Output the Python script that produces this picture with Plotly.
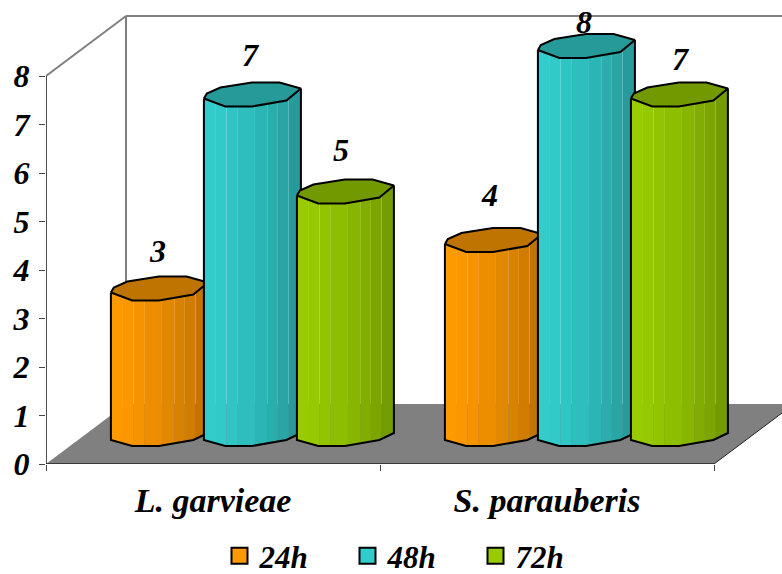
import numpy as np
import plotly.graph_objects as go

# Chart values
categories = ["L. garvieae", "S. parauberis"]
series_names = ["24h", "48h", "72h"]
values_24h = [3, 4]
values_48h = [7, 8]
values_72h = [5, 7]
series_values = [values_24h, values_48h, values_72h]
y_ticks = [0, 1, 2, 3, 4, 5, 6, 7, 8]

# Series colours
face_colors = [(255, 153, 0), (51, 204, 204), (153, 204, 0)]

# Plot scale in pixels per axis unit
PX_PER_X = 334.0
PX_PER_Y = 48.5
WIDTH, HEIGHT = 782, 574
LEFT, BOTTOM = 46, 464

# Depth of the box and placement of the cylinders inside it
BOX_DX = 80 / PX_PER_X
BOX_DY = 60 / PX_PER_Y
CYL_SHIFT_X = 0.118
CYL_SHIFT_Y = 30 / PX_PER_Y
CYL_PITCH = 93 / PX_PER_X
CYL_WIDTH = 97 / PX_PER_X

# Outline of the faceted cylinder: position across the width, vertical offset in axis units
knots = np.array([0.0, 0.22, 0.495, 0.85, 1.0])
top_front = np.array([4, 12, 12, 6, -6]) / PX_PER_Y
base_front = np.array([6, 12, 12, 6, -1]) / PX_PER_Y
back_f = np.array([0.0, 0.03, 0.17, 0.495, 0.78, 1.0])
back_dy = np.array([4, -1, -7, -12, -12, -6]) / PX_PER_Y

# Vertical facets and the shading of each
strip_edges = np.array([0, 0.124, 0.234, 0.343, 0.526, 0.653, 0.762, 0.872, 1.0])
strip_shades = [1.0, 0.985, 0.96, 0.93, 0.885, 0.85, 0.81, 0.76]
TOP_SHADE = 0.75

# Label placement above each column, in pixels
label_lift = [[38, 45], [40, 24], [42, 36]]
label_nudge = [[-2, -4], [-1, -2], [-4, 2]]

TEXT_FONT = dict(family="Liberation Serif", color="black", weight="bold", style="italic")


def rgb(color, shade=1.0):
    r, g, b = (int(round(c * shade)) for c in color)
    return f"rgb({r},{g},{b})"


def front_points(f0, f1):
    inner = knots[(knots > f0) & (knots < f1)]
    return np.concatenate(([f0], inner, [f1]))


def strip_polygon(left, base, top, f0, f1):
    f = front_points(f0, f1)
    xs = left + f * CYL_WIDTH
    upper = top - np.interp(f, knots, top_front)
    lower = base - np.interp(f, knots, base_front)
    return list(xs) + list(xs[::-1]) + [xs[0], None], list(upper) + list(lower[::-1]) + [upper[0], None]


fig = go.Figure()

for s, (name, vals, color) in enumerate(zip(series_names, series_values, face_colors)):
    lefts = [c + 0.5 + CYL_SHIFT_X + (s - 1) * CYL_PITCH - CYL_WIDTH / 2 for c in range(len(vals))]

    # Body facets
    for k, shade in enumerate(strip_shades):
        xs, ys = [], []
        for left, v in zip(lefts, vals):
            px, py = strip_polygon(left, CYL_SHIFT_Y, v + CYL_SHIFT_Y, strip_edges[k], strip_edges[k + 1])
            xs += px
            ys += py
        fig.add_trace(go.Scatter(x=xs, y=ys, mode="none", fill="toself", fillcolor=rgb(color, shade),
                                 hoverinfo="skip", showlegend=False))

    # Top face and outlines
    tx, ty, ox, oy = [], [], [], []
    for left, v in zip(lefts, vals):
        top = v + CYL_SHIFT_Y
        base = CYL_SHIFT_Y
        fx = left + knots * CYL_WIDTH
        ftop = top - top_front
        fbase = base - base_front
        bx = left + back_f * CYL_WIDTH
        by = top - back_dy
        tx += list(bx) + list(fx[::-1]) + [None]
        ty += list(by) + list(ftop[::-1]) + [None]
        ox += list(bx) + list(fx[::-1]) + [None]
        oy += list(by) + list(ftop[::-1]) + [None]
        ox += [fx[0]] + list(fx) + [fx[-1], None]
        oy += [ftop[0]] + list(fbase) + [ftop[-1], None]
    fig.add_trace(go.Scatter(x=tx, y=ty, mode="none", fill="toself", fillcolor=rgb(color, TOP_SHADE),
                             hoverinfo="skip", showlegend=False))
    fig.add_trace(go.Scatter(x=ox, y=oy, mode="lines", line=dict(color="black", width=2),
                             hoverinfo="skip", showlegend=False))

    # Value labels
    for c, v in enumerate(vals):
        fig.add_annotation(x=lefts[c] + CYL_WIDTH / 2, y=v + CYL_SHIFT_Y, text=str(v), showarrow=False,
                           xshift=label_nudge[s][c], yshift=label_lift[s][c],
                           font=dict(size=32, **TEXT_FONT))

    # Legend entry
    fig.add_trace(go.Scatter(x=[None], y=[None], mode="markers", name=name,
                             marker=dict(symbol="square", size=17, color=rgb(color),
                                         line=dict(color="black", width=2))))

# Box walls and floor
wall = dict(color="#808080", width=2)
shapes = [
    dict(type="path", xref="x", yref="y", layer="below", fillcolor="#808080", line=dict(width=0),
         path=f"M 0 0 L {BOX_DX} {BOX_DY} L {2 + BOX_DX} {BOX_DY} L 2 0 Z"),
    dict(type="line", xref="x", yref="y", layer="below", line=wall, x0=0, y0=8, x1=BOX_DX, y1=8 + BOX_DY),
    dict(type="line", xref="x", yref="y", layer="below", line=wall, x0=BOX_DX, y0=BOX_DY, x1=BOX_DX, y1=8 + BOX_DY),
    dict(type="line", xref="x", yref="y", layer="below", line=wall, x0=BOX_DX, y0=8 + BOX_DY, x1=3, y1=8 + BOX_DY),
    dict(type="line", xref="x", yref="y", layer="below", line=dict(color="#222222", width=1),
         x0=2, y0=0, x1=2 + BOX_DX, y1=BOX_DY),
    dict(type="line", xref="x", yref="y", layer="above", line=dict(color="#222222", width=1.6), x0=0, y0=0, x1=2, y1=0),
    dict(type="line", xref="x", yref="y", layer="above", line=dict(color="#222222", width=1.6), x0=0, y0=0, x1=0, y1=8),
]

fig.update_layout(
    width=WIDTH, height=HEIGHT,
    margin=dict(l=LEFT, r=0, t=0, b=HEIGHT - BOTTOM, pad=0, autoexpand=False),
    paper_bgcolor="white", plot_bgcolor="white",
    shapes=shapes,
    xaxis=dict(range=[0, (WIDTH - LEFT) / PX_PER_X], tickmode="array",
               tickvals=[0.5, 1.5], ticktext=categories, ticks="", showgrid=False, zeroline=False,
               showline=False, ticklabelstandoff=13, tickfont=dict(size=34, **TEXT_FONT),
               minor=dict(tickmode="array", tickvals=[0, 1, 2], ticks="outside", ticklen=6,
                          tickcolor="#444444", tickwidth=1, showgrid=False)),
    yaxis=dict(range=[0, BOTTOM / PX_PER_Y], tickmode="array", tickvals=y_ticks,
               ticks="outside", ticklen=6, tickcolor="#444444", tickwidth=1, showgrid=False,
               zeroline=False, showline=False, ticklabelstandoff=3,
               tickfont=dict(size=32, **TEXT_FONT)),
    legend=dict(orientation="h", x=(219.5 - LEFT) / (WIDTH - LEFT), xanchor="left",
                y=-(556 - BOTTOM) / BOTTOM, yanchor="middle", entrywidth=83, entrywidthmode="pixels",
                font=dict(size=31, **TEXT_FONT), bgcolor="rgba(0,0,0,0)", itemsizing="trace"),
)

fig.write_html("out.html", config=dict(displayModeBar=False))
